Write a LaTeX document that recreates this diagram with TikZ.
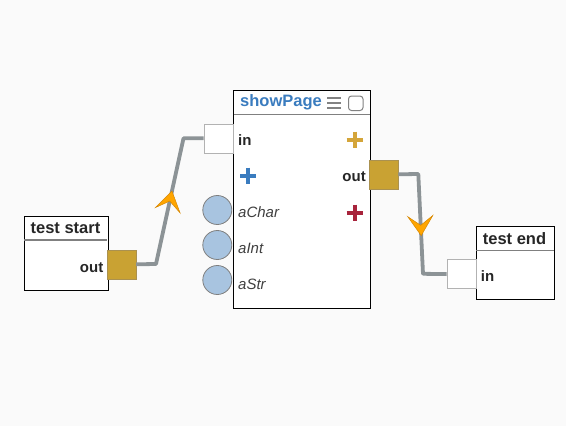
\documentclass[tikz,border=0pt]{standalone}
\usepackage{fontspec}
\setmainfont{Liberation Sans}
\usetikzlibrary{positioning,calc,arrows.meta,decorations.markings}

\definecolor{bgpaper}{RGB}{250,250,250}
\definecolor{portgold}{RGB}{201,162,51}
\definecolor{portgoldedge}{RGB}{170,145,80}
\definecolor{wiregray}{RGB}{140,147,150}
\definecolor{arroworange}{RGB}{255,165,0}
\definecolor{arrowedge}{RGB}{215,135,0}
\definecolor{titleblue}{RGB}{58,124,191}
\definecolor{ballblue}{RGB}{168,196,224}
\definecolor{plusred}{RGB}{168,36,60}
\definecolor{plusgold}{RGB}{212,165,58}
\definecolor{iconwgray}{RGB}{130,130,130}

\begin{document}
\begin{tikzpicture}[x=1pt, y=-1pt,
	blockbox/.style={draw=black, line width=0.9pt, fill=white, anchor=north west, inner sep=0pt},
	headline/.style={draw=gray, line width=1.1pt},
	headtext/.style={font=\fontsize{16.5}{19}\selectfont\bfseries, text=black!85, inner sep=0pt},
	porttext/.style={font=\fontsize{15}{18}\selectfont\bfseries, text=black!85, inner sep=0pt, anchor=base west},
	argtext/.style={font=\fontsize{15}{18}\selectfont\itshape, text=black!75, inner sep=0pt, anchor=base west},
	goldport/.style={draw=portgoldedge, fill=portgold, line width=0.6pt, minimum size=29pt, inner sep=0pt, anchor=north west},
	whiteport/.style={draw=black!30, fill=white, line width=0.6pt, minimum size=29pt, inner sep=0pt, anchor=north west},
	ball/.style={circle, draw=gray, fill=ballblue, line width=0.8pt, minimum size=29pt, inner sep=0pt},
	wire/.style={draw=wiregray, line width=3.8pt, line join=round},
	flowtip/.style={postaction={decorate, decoration={markings,
		mark=at position #1 with {\arrow{Stealth[length=21pt, width=27pt, inset=10pt, fill=arroworange, color=arrowedge, line width=0.5pt]}}}}},
	plussign/.pic={\draw[line width=4pt] (-8,0) -- (8,0) (0,-8) -- (0,8);}
]
	\useasboundingbox[fill=bgpaper] (0,0) rectangle (566,426);

	% test start
	\node[blockbox, minimum width=84pt, minimum height=74pt] (start) at (23.5,215.5) {};
	\draw[headline] (24,240) -- (107,240);
	\node[headtext] (starttitle) at (65.5,228) {test start};
	\node[porttext, anchor=base east] (startouttext) at (103.5,272) {out};
	\node[goldport] (startout) at (106.5,249.5) {};

	% showPage
	\node[blockbox, minimum width=137pt, minimum height=218pt] (page) at (233.3,89.5) {};
	\draw[headline] (233.5,114.3) -- (370,114.3);
	\node[headtext, text=titleblue, anchor=base west] (pagetitle) at (240,106.7) {showPage};
	\foreach \yy in {98,103,108}
		\draw[iconwgray, line width=2.6pt] (327,\yy) -- (341,\yy);
	\draw[iconwgray, line width=1pt, rounded corners=3pt] (348.5,96) rectangle (363,110.5);
	\node[porttext] (pageintext) at (238,145.7) {in};
	\node[porttext, anchor=base east] (pageouttext) at (366,181.7) {out};
	\pic[plusgold] at (354.7,139.7) {plussign};
	\pic[titleblue] at (248,175.7) {plussign};
	\pic[plusred] at (354.7,212.7) {plussign};
	\node[ball] (charball) at (217.3,210) {};
	\node[ball] (intball) at (217.3,245) {};
	\node[ball] (strball) at (217.3,280) {};
	\node[argtext] (chartext) at (238,217.7) {aChar};
	\node[argtext] (inttext) at (238,253.3) {aInt};
	\node[argtext] (strtext) at (238,289.3) {aStr};
	\node[whiteport] (pagein) at (203.5,123.5) {};
	\node[goldport] (pageout) at (368.8,159.5) {};

	% test end
	\node[blockbox, minimum width=78pt, minimum height=73pt] (finish) at (475.7,226) {};
	\draw[headline] (476,250.5) -- (553.5,250.5);
	\node[headtext] (finishtitle) at (514.5,238.5) {test end};
	\node[porttext] (finishintext) at (480.7,281) {in};
	\node[whiteport] (finishin) at (446.7,259.3) {};

	% wires
	\coordinate (bendA) at (156,264);
	\coordinate (bendB) at (183.5,138.3);
	\coordinate (bendC) at (418.3,174);
	\coordinate (bendD) at (423,273.8);
	\draw[wire, flowtip=95pt] (startout.east) -- (bendA) -- (bendB) -- (pagein.west);
	\draw[wire, flowtip=82pt] (pageout.east) -- (bendC) -- (bendD) -- (finishin.west);
\end{tikzpicture}
\end{document}
